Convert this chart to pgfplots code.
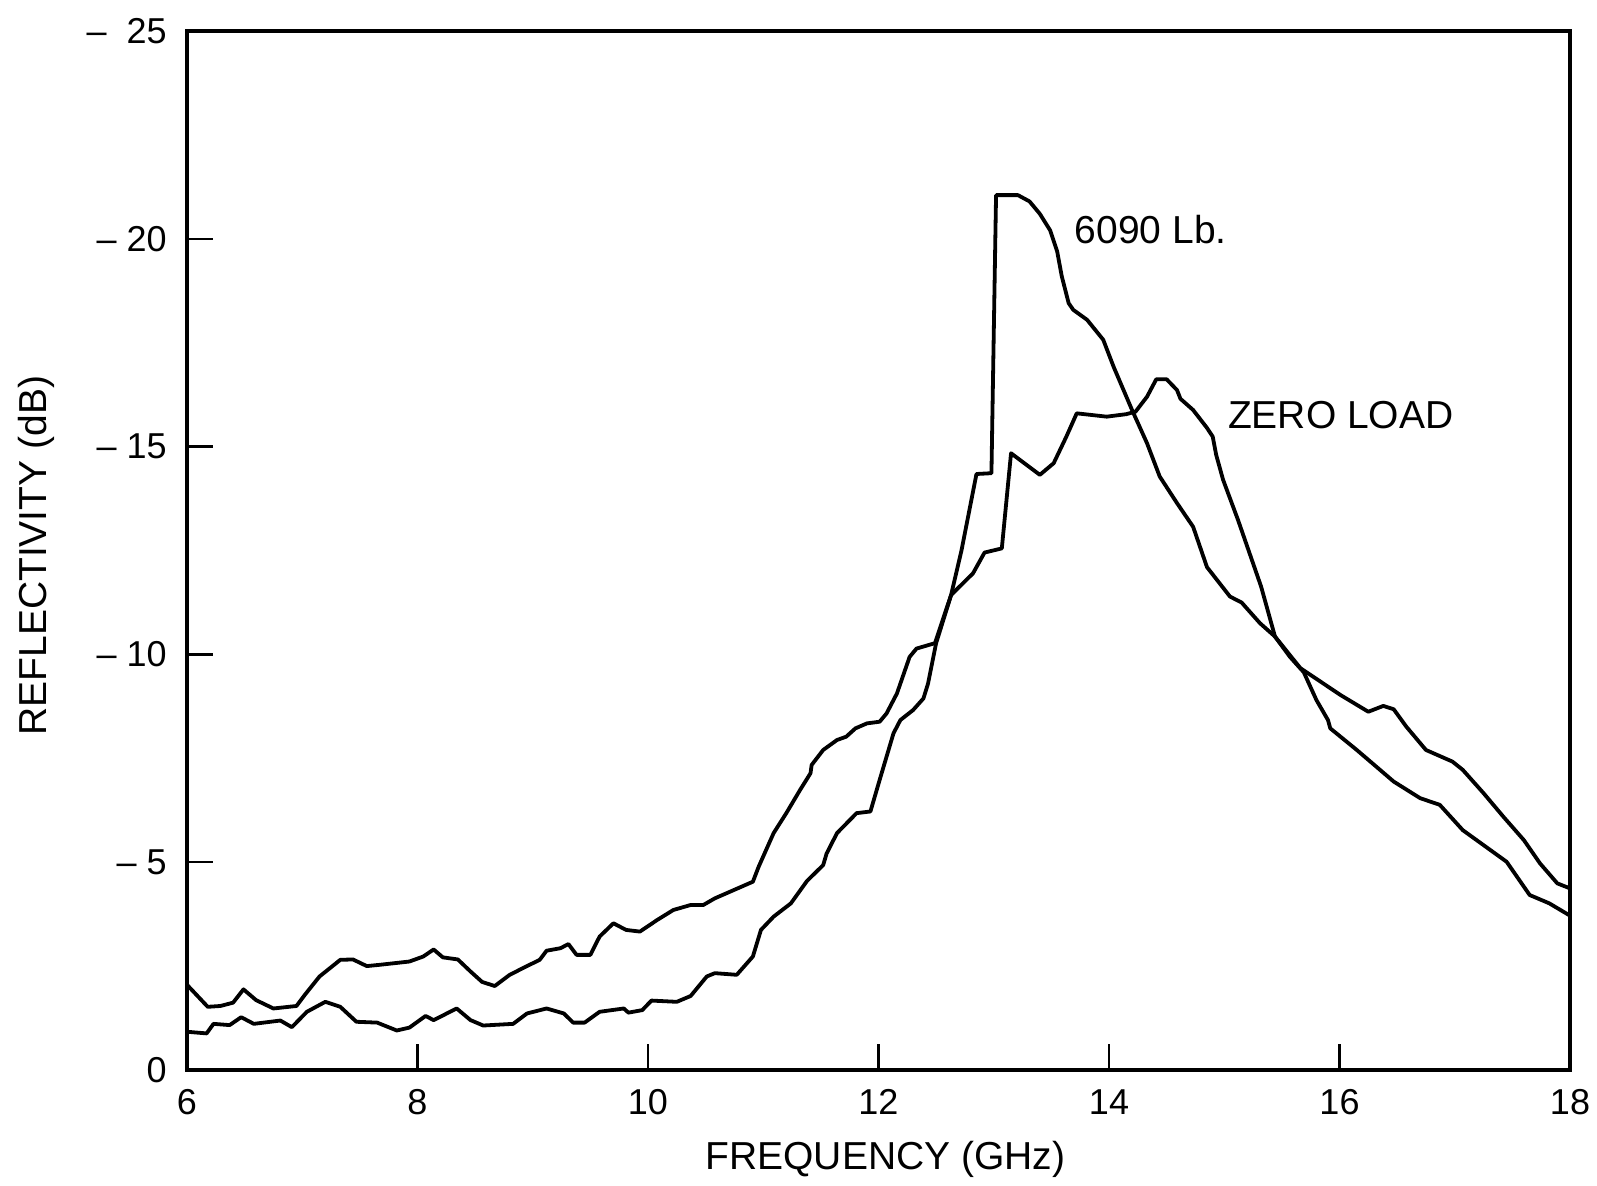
\documentclass[border=0pt]{standalone}
\usepackage{fontspec}
\setmainfont{Liberation Sans}
\usepackage{pgfplots}
\pgfplotsset{compat=1.18}
\begin{document}
\begin{tikzpicture}
\useasboundingbox (-93.5pt,-58pt) rectangle (705pt,535pt);
\begin{axis}[
  at={(0pt,0pt)}, anchor=south west,
  scale only axis, width=691.5pt, height=519.5pt,
  xmin=6, xmax=18, ymin=0, ymax=25,
  xtick={6,8,10,12,14,16,18},
  xticklabels={6,8,10,12,14,16,18},
  ytick={0,5,10,15,20,25},
  yticklabels={0,–\ 5,–\ 10,–\ 15,–\ 20,–\ \ 25},
  xtick pos=bottom, ytick pos=left,
  tick align=inside,
  major tick length=13pt,
  tick style={line width=1.2pt, black},
  axis line style={line width=1.6pt, black},
  xticklabel style={anchor=north, inner sep=0pt, yshift=-9.5pt, font=\fontsize{18}{21}\selectfont},
  yticklabel style={anchor=east, inner sep=0pt, xshift=-10pt, font=\fontsize{18}{21}\selectfont},
  xlabel={FREQUENCY (GHz)},
  ylabel={REFLECTIVITY (dB)},
  xlabel style={at={(axis description cs:0.505,-0.0857)}, anchor=center, inner sep=0pt, font=\fontsize{19.5}{23}\selectfont},
  ylabel style={at={(axis description cs:-0.109,0.495)}, anchor=center, rotate=0, inner sep=0pt, font=\fontsize{19.5}{23}\selectfont},
  clip=false,
]
% 6090 Lb.
\addplot[black, line width=1.9pt, line join=round, mark=none] coordinates {
(6.00,0.92)(6.17,0.88)(6.23,1.11)(6.37,1.08)(6.47,1.27)(6.58,1.11)(6.81,1.19)(6.91,1.03)
(7.04,1.40)(7.20,1.64)(7.33,1.52)(7.47,1.16)(7.65,1.14)(7.82,0.95)(7.93,1.02)(8.07,1.30)
(8.14,1.20)(8.34,1.48)(8.46,1.20)(8.57,1.07)(8.83,1.11)(8.95,1.36)(9.12,1.48)(9.27,1.36)
(9.35,1.14)(9.45,1.14)(9.58,1.40)(9.79,1.48)(9.83,1.38)(9.95,1.44)(10.03,1.67)(10.25,1.64)
(10.37,1.78)(10.51,2.25)(10.58,2.33)(10.77,2.29)(10.91,2.73)(10.98,3.37)(11.09,3.69)(11.24,4.01)
(11.38,4.55)(11.52,4.93)(11.55,5.21)(11.64,5.70)(11.81,6.18)(11.93,6.22)(12.01,6.98)(12.13,8.10)
(12.19,8.42)(12.30,8.66)(12.39,8.94)(12.43,9.30)(12.50,10.27)(12.63,11.43)(12.72,12.50)(12.85,14.34)
(12.98,14.36)(13.02,21.05)(13.21,21.05)(13.31,20.90)(13.40,20.60)(13.49,20.20)(13.55,19.70)(13.59,19.10)
(13.65,18.45)(13.69,18.29)(13.81,18.05)(13.95,17.57)(14.04,16.92)(14.20,15.88)(14.33,15.08)(14.44,14.28)
(14.59,13.64)(14.73,13.07)(14.85,12.10)(15.05,11.39)(15.15,11.25)(15.31,10.75)(15.44,10.43)(15.66,9.67)
(16.01,9.02)(16.25,8.62)(16.38,8.76)(16.47,8.68)(16.58,8.26)(16.75,7.70)(16.98,7.42)(17.07,7.22)
(17.25,6.66)(17.42,6.10)(17.60,5.53)(17.74,4.97)(17.89,4.49)(18.00,4.37)
};
% ZERO LOAD
\addplot[black, line width=1.9pt, line join=round, mark=none] coordinates {
(6.00,2.05)(6.18,1.52)(6.29,1.54)(6.40,1.62)(6.49,1.94)(6.60,1.68)(6.75,1.48)(6.95,1.54)
(7.02,1.80)(7.15,2.25)(7.33,2.65)(7.44,2.66)(7.56,2.50)(7.67,2.53)(7.93,2.61)(8.05,2.73)
(8.14,2.90)(8.22,2.71)(8.35,2.66)(8.46,2.37)(8.56,2.12)(8.67,2.02)(8.80,2.29)(8.95,2.50)
(9.06,2.65)(9.12,2.87)(9.24,2.93)(9.31,3.03)(9.38,2.77)(9.50,2.77)(9.58,3.21)(9.70,3.53)
(9.81,3.37)(9.93,3.33)(10.08,3.61)(10.22,3.85)(10.37,3.97)(10.48,3.97)(10.58,4.13)(10.91,4.53)
(10.96,4.89)(11.09,5.70)(11.20,6.18)(11.32,6.74)(11.41,7.14)(11.42,7.34)(11.52,7.70)(11.64,7.94)
(11.72,8.02)(11.80,8.22)(11.90,8.34)(12.01,8.38)(12.07,8.58)(12.16,9.06)(12.27,9.94)(12.33,10.14)
(12.49,10.27)(12.63,11.43)(12.82,11.95)(12.92,12.45)(13.07,12.55)(13.15,14.84)(13.40,14.32)(13.52,14.60)
(13.63,15.24)(13.72,15.80)(13.98,15.72)(14.15,15.78)(14.23,15.84)(14.33,16.20)(14.41,16.62)(14.50,16.62)
(14.59,16.36)(14.62,16.15)(14.73,15.88)(14.85,15.45)(14.90,15.24)(14.93,14.80)(14.99,14.20)(15.12,13.23)
(15.22,12.43)(15.32,11.63)(15.44,10.43)(15.57,9.94)(15.69,9.57)(15.80,8.90)(15.90,8.42)(15.92,8.22)
(16.15,7.70)(16.47,6.94)(16.70,6.54)(16.87,6.38)(17.07,5.77)(17.25,5.41)(17.45,5.01)(17.65,4.21)
(17.82,4.01)(17.99,3.73)
};
\node[anchor=west, inner sep=0pt, font=\fontsize{19.5}{23}\selectfont] at (axis cs:13.70,20.22) {6090 Lb.};
\node[anchor=west, inner sep=0pt, font=\fontsize{19.5}{23}\selectfont] at (axis cs:15.03,15.75) {ZERO LOAD};
\end{axis}
\end{tikzpicture}
\end{document}
